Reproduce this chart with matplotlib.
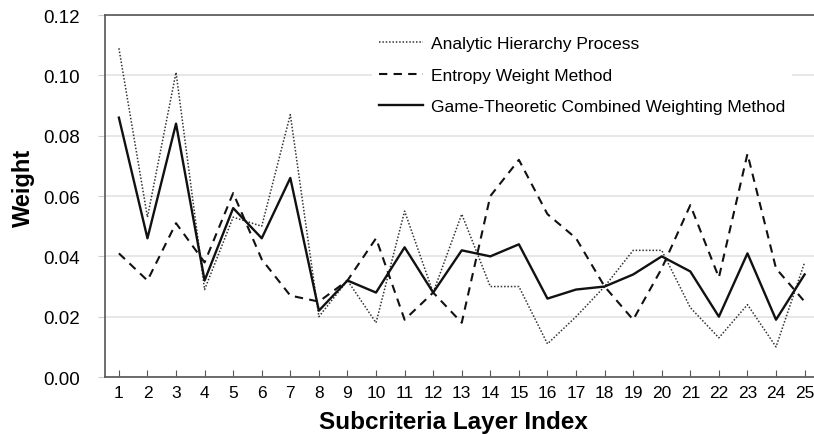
import matplotlib
matplotlib.use("Agg")
import matplotlib.pyplot as plt

plt.rcParams['font.family'] = ['Liberation Sans', 'DejaVu Sans']

index = list(range(1, 26))
ahp = [0.109, 0.053, 0.101, 0.029, 0.053, 0.050, 0.087, 0.020, 0.032, 0.018,
       0.055, 0.028, 0.054, 0.030, 0.030, 0.011, 0.020, 0.030, 0.042, 0.042,
       0.023, 0.013, 0.024, 0.010, 0.038]
ewm = [0.041, 0.032, 0.051, 0.038, 0.061, 0.039, 0.027, 0.025, 0.032, 0.046,
       0.019, 0.028, 0.018, 0.060, 0.072, 0.054, 0.046, 0.030, 0.019, 0.036,
       0.057, 0.033, 0.074, 0.036, 0.025]
gt = [0.086, 0.046, 0.084, 0.032, 0.056, 0.046, 0.066, 0.022, 0.032, 0.028,
      0.043, 0.028, 0.042, 0.040, 0.044, 0.026, 0.029, 0.030, 0.034, 0.040,
      0.035, 0.020, 0.041, 0.019, 0.034]
y_ticks = [0.00, 0.02, 0.04, 0.06, 0.08, 0.10, 0.12]

fig = plt.figure(figsize=(8.14, 4.35), dpi=100)
ax = fig.add_axes([0.1285, 0.131, 0.8775, 0.832])

ax.plot(index, ahp, color='#333333', linestyle=(0, (1, 1.2)), linewidth=1.1,
        label='Analytic Hierarchy Process')
ax.plot(index, ewm, color='#111111', linestyle=(0, (4, 3)), linewidth=1.5,
        label='Entropy Weight Method')
ax.plot(index, gt, color='#111111', linestyle='-', linewidth=1.7,
        label='Game-Theoretic Combined Weighting Method')

ax.set_xlim(0.5, 25.5)
ax.set_ylim(0, 0.12)
ax.set_xticks(index)
ax.set_yticks(y_ticks)
ax.set_yticklabels([f"{v:.2f}" for v in y_ticks])
ax.yaxis.grid(True, color='#e3e3e3', linewidth=1.2)
ax.set_axisbelow(True)

for s in ['left', 'bottom', 'top']:
    ax.spines[s].set_color('#555555')
    ax.spines[s].set_linewidth(1.2)
ax.spines['right'].set_visible(False)

ax.tick_params(axis='x', direction='in', length=5, color='#555555', labelsize=12.5, pad=6)
ax.tick_params(axis='y', direction='out', length=5, color='#cccccc', labelsize=13.5, pad=13)

ax.set_xlabel('Subcriteria Layer Index', fontsize=17.5, fontweight='bold', labelpad=7)
ax.xaxis.label.set_x(0.489)
ax.set_ylabel('Weight', fontsize=17, fontweight='bold')
ax.yaxis.set_label_coords(-0.098, 0.525)

leg = ax.legend(loc='upper left', bbox_to_anchor=(0.375, 0.962), frameon=True,
                fontsize=12.5, handlelength=2.5, handletextpad=0.45,
                labelspacing=0.95, borderaxespad=0)
leg.get_frame().set_facecolor('white')
leg.get_frame().set_edgecolor('none')
leg.get_frame().set_alpha(1.0)

fig.savefig('out.png', dpi=100)
